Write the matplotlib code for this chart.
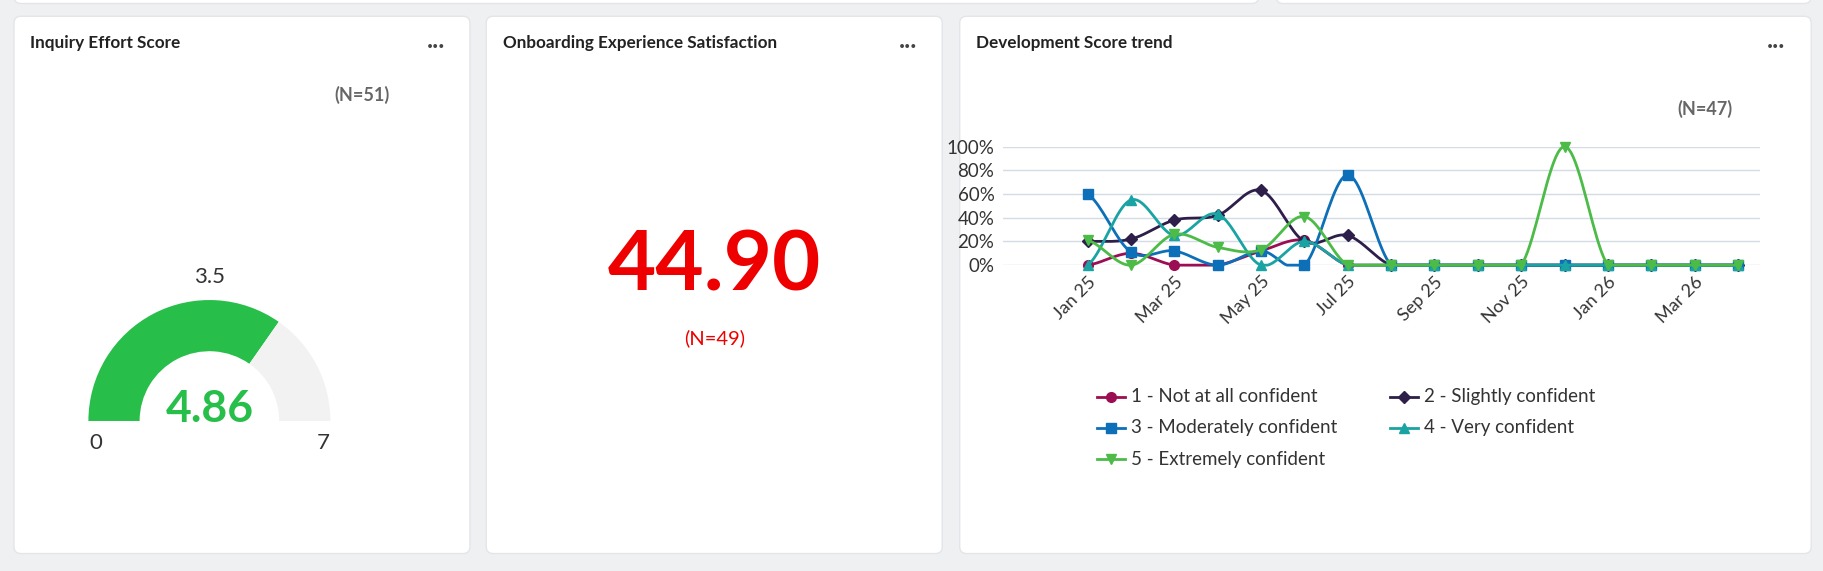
import numpy as np
import matplotlib.pyplot as plt
from matplotlib.patches import FancyBboxPatch, Wedge

plt.rcParams['font.family'] = ['Lato', 'DejaVu Sans']

# data
gauge_value = 4.86
gauge_min, gauge_mid, gauge_max = 0, 3.5, 7
gauge_n = "(N=51)"
kpi_value = "44.90"
kpi_n = "(N=49)"
trend_n = "(N=47)"
months = ["Jan 25", "Feb 25", "Mar 25", "Apr 25", "May 25", "Jun 25", "Jul 25", "Aug 25",
          "Sep 25", "Oct 25", "Nov 25", "Dec 25", "Jan 26", "Feb 26", "Mar 26", "Apr 26"]
not_at_all = [0, 10, 0, 0, 12, 21, 0, 0, 0, 0, 0, 0, 0, 0, 0, 0]
slightly = [20, 22, 38, 42, 63, 20, 25, 0, 0, 0, 0, 0, 0, 0, 0, 0]
moderately = [60, 11, 12, 0, 12, 0, 76, 0, 0, 0, 0, 0, 0, 0, 0, 0]
very = [0, 55, 25, 43, 0, 20, 0, 0, 0, 0, 0, 0, 0, 0, 0, 0]
extremely = [21, 0, 26, 15, 13, 41, 0, 0, 0, 0, 0, 100, 0, 0, 0, 0]
series_names = ["1 - Not at all confident", "2 - Slightly confident", "3 - Moderately confident",
                "4 - Very confident", "5 - Extremely confident"]
series = [not_at_all, slightly, moderately, very, extremely]
colors = ["#9b0e53", "#2e1f4a", "#0c6fb8", "#1aa3a3", "#4cbb47"]
markers = ["o", "D", "s", "^", "v"]
msizes = [7, 6, 7, 7.5, 7.5]

W, H = 1568, 491
fig = plt.figure(figsize=(18.24, 5.71), dpi=100)
fig.patch.set_facecolor("#eef0f2")
bg = fig.add_axes([0, 0, 1, 1])
bg.set_xlim(0, W)
bg.set_ylim(H, 0)
bg.axis("off")


def card(x0, y0, x1, y1):
    bg.add_patch(FancyBboxPatch((x0, y0), x1 - x0, y1 - y0, boxstyle="round,pad=0,rounding_size=6",
                                fc="white", ec="#e3e5e8", lw=1))


card(12, 14, 404, 476)
card(418, 14, 810, 476)
card(825, 14, 1557, 476)
card(12, -20, 1082, 3)
card(1097, -20, 1557, 3)

for x, t in [(26, "Inquiry Effort Score"), (432, "Onboarding Experience Satisfaction"),
             (839, "Development Score trend")]:
    bg.text(x, 37, t, fontsize=12.3, fontweight="bold", color="#222222", va="center")
for x in [375, 781, 1527]:
    bg.text(x, 40, "•••", fontsize=7.5, color="#444444", ha="center", va="center")

# gauge
cx, cy, r_out, r_in = 180, 362, 104, 60
frac = (gauge_value - gauge_min) / (gauge_max - gauge_min)
ang = 180 + frac * 180
bg.add_patch(Wedge((cx, cy), r_out, 180, ang, width=r_out - r_in, fc="#27be4a", ec="none"))
bg.add_patch(Wedge((cx, cy), r_out, ang, 360, width=r_out - r_in, fc="#f2f2f2", ec="none"))
bg.text(cx, 352, f"{gauge_value:.2f}", fontsize=32, fontweight="bold", color="#27be4a",
        ha="center", va="center")
bg.text(82, 381, str(gauge_min), fontsize=16, color="#333333", ha="center", va="center")
bg.text(278, 381, str(gauge_max), fontsize=16, color="#333333", ha="center", va="center")
bg.text(cx, 238, str(gauge_mid), fontsize=16, color="#333333", ha="center", va="center")
bg.text(311, 82, gauge_n, fontsize=13, fontweight="bold", color="#666666", ha="center", va="center")

# kpi
bg.text(614, 230, kpi_value, fontsize=60, fontweight="bold", color="#ee0000", ha="center", va="center")
bg.text(614, 291, kpi_n, fontsize=14.5, color="#ee0000", ha="center", va="center")

# trend
bg.text(1466, 94, trend_n, fontsize=13, fontweight="bold", color="#666666", ha="center", va="center")
ax_l, ax_r, ax_t, ax_b = 862, 1513, 126, 228
ax = fig.add_axes([ax_l / W, 1 - ax_b / H, (ax_r - ax_l) / W, (ax_b - ax_t) / H])
sp = (1494 - 935) / 15
ax.set_xlim(-(935 - ax_l) / sp, 15 + (ax_r - 1494) / sp)
ax.set_ylim(0, 100)
ax.set_facecolor("none")
for s in ax.spines.values():
    s.set_visible(False)
ax.set_yticks([0, 20, 40, 60, 80, 100])
ax.set_yticklabels([f"{v}%" for v in range(0, 101, 20)], fontsize=13.5, color="#333333")
ax.yaxis.grid(True, color="#d3dbe5", lw=1)
ax.set_axisbelow(True)
ax.tick_params(length=0, pad=6)
ax.set_xticks(range(0, 16, 2))
ax.set_xticklabels(months[::2], rotation=45, ha="right", rotation_mode="anchor",
                   fontsize=13, color="#333333")


def spline(y, n=20):
    y = np.asarray(y, float)
    p = np.concatenate([[y[0]], y, [y[-1]]])
    xs, ys = [], []
    for i in range(len(y) - 1):
        t = np.linspace(0, 1, n, endpoint=False)
        p0, p1, p2, p3 = p[i], p[i + 1], p[i + 2], p[i + 3]
        v = 0.5 * (2 * p1 + (-p0 + p2) * t + (2 * p0 - 5 * p1 + 4 * p2 - p3) * t ** 2
                   + (-p0 + 3 * p1 - 3 * p2 + p3) * t ** 3)
        xs.append(i + t)
        ys.append(v)
    xs.append([len(y) - 1])
    ys.append([y[-1]])
    return np.concatenate(xs), np.clip(np.concatenate(ys), 0, None)


x = np.arange(len(months))
for vals, c, m, ms in zip(series, colors, markers, msizes):
    sx, sy = spline(vals)
    ax.plot(sx, sy, color=c, lw=2, clip_on=False)
    ax.plot(x, vals, ls="none", marker=m, color=c, ms=ms, clip_on=False)

# legend
leg_pos = [(955, 341), (1207, 341), (955, 368), (1207, 368), (955, 395)]
for (lx, ly), name, c, m, ms in zip(leg_pos, series_names, colors, markers, msizes):
    bg.plot([lx - 12, lx + 12], [ly, ly], color=c, lw=2)
    bg.plot([lx], [ly], marker=m, color=c, ms=ms)
    bg.text(lx + 17, ly, name, fontsize=13.5, color="#333333", va="center")

fig.savefig("out.png", dpi=100, facecolor=fig.get_facecolor())
